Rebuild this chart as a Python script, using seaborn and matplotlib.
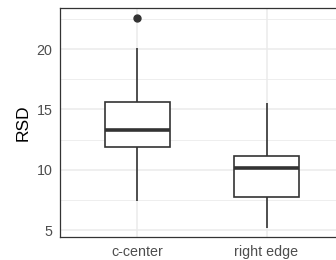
"""Boxplot de RSD por posicion (estilo theme_bw)."""

import matplotlib
matplotlib.use("Agg")

import matplotlib.pyplot as plt
import numpy as np
import pandas as pd
import seaborn as sns

# Datos: muestras cuyas estadisticas reproducen las cajas
positions = ["c-center", "right edge"]
rsd_c_center = [7.44, 11.9, 11.9, 13.26, 13.26, 13.26, 15.58, 20.05, 22.56]
rsd_right_edge = [5.2, 7.7, 7.7, 10.1, 10.1, 10.1, 11.1, 11.1, 15.5]
y_ticks = [5, 10, 15, 20]
y_minor = [7.5, 12.5, 17.5, 22.5]

df = pd.DataFrame({
    "position": [positions[0]] * len(rsd_c_center) + [positions[1]] * len(rsd_right_edge),
    "RSD": rsd_c_center + rsd_right_edge,
})

sns.set_style("white")
plt.rcParams["font.family"] = ["Liberation Sans", "DejaVu Sans"]

fig = plt.figure(figsize=(3.36, 2.60), dpi=100)
ax = fig.add_axes([60 / 336, 1 - 237 / 260, 284 / 336, 229 / 260])

edge = "#333333"
sns.boxplot(
    data=df, x="position", y="RSD", order=positions, ax=ax,
    color="white", linecolor=edge, linewidth=1.2, width=0.5,
    showcaps=False,
    medianprops=dict(linewidth=2.6, color=edge),
    flierprops=dict(marker="o", markerfacecolor=edge, markeredgecolor=edge, markersize=5),
)

ax.set_xlim(-0.6, 1.6)
ax.set_ylim(4.42, 23.4)
ax.set_yticks(y_ticks)
ax.set_yticks(y_minor, minor=True)
ax.grid(True, which="major", color="#EBEBEB", linewidth=1.1)
ax.grid(True, which="minor", axis="y", color="#EBEBEB", linewidth=0.6)
ax.set_axisbelow(True)

for spine in ax.spines.values():
    spine.set_color(edge)
    spine.set_linewidth(0.9)

ax.tick_params(axis="both", which="major", length=3.5, width=0.8, color=edge,
               labelsize=10.3, labelcolor="#4D4D4D", pad=2)
ax.tick_params(axis="y", which="minor", length=0)
ax.set_xlabel("")
ax.set_ylabel("RSD", fontsize=12.5, color="black", labelpad=4)

fig.savefig("out.png", dpi=100)
plt.close(fig)
